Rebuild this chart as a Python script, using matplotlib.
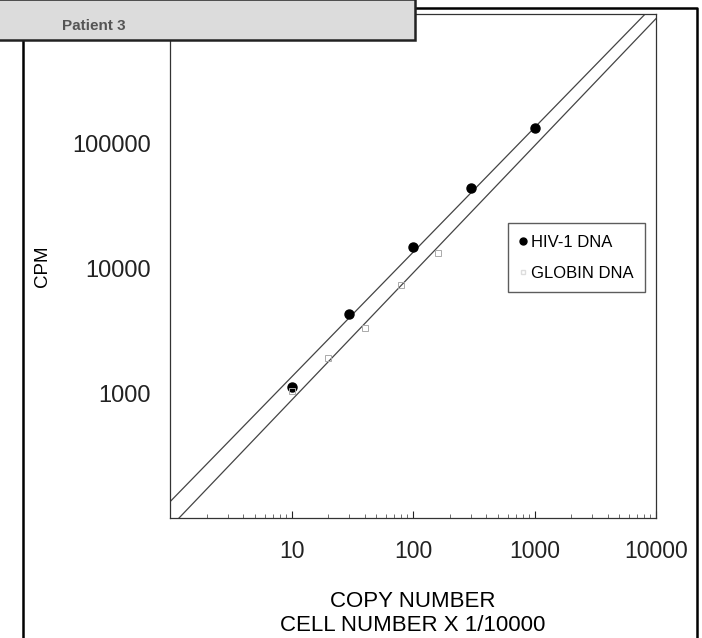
import numpy as np
import matplotlib
matplotlib.use('Agg')
import matplotlib.pyplot as plt
from matplotlib.patches import Rectangle
from matplotlib.lines import Line2D

plt.rcParams['font.family'] = ['Liberation Sans', 'DejaVu Sans']

# values
hiv_copies = [10, 30, 100, 300, 1000]
hiv_cpm = [1120, 4300, 14800, 44500, 134000]
globin_cells = [10, 20, 40, 80, 160]
globin_cpm = [1040, 1930, 3360, 7400, 13300]
# fitted lines: cpm = a * x ** b
hiv_fit = (135, 1.0)
globin_fit = (84, 1.02)
x_ticks = [10, 100, 1000, 10000]
y_ticks = [1000, 10000, 100000]

fig = plt.figure(figsize=(7.02, 6.38), dpi=100)
ax = fig.add_axes([0.2422, 0.1881, 0.6923, 0.790])

xx = np.logspace(0, 4.1, 50)
ax.plot(xx, hiv_fit[0] * xx ** hiv_fit[1], color='#444444', lw=0.9)
ax.plot(xx, globin_fit[0] * xx ** globin_fit[1], color='#444444', lw=0.9)
ax.plot(hiv_copies, hiv_cpm, 'o', color='black', markersize=6.5, zorder=3)
ax.plot(globin_cells, globin_cpm, 's', mfc='none', mec='#aaaaaa', mew=0.7,
        markersize=5, zorder=3)

ax.set_xscale('log')
ax.set_yscale('log')
ax.set_xlim(1, 10000)
ax.set_ylim(100, 1.1e6)
ax.set_xticks(x_ticks)
ax.set_xticklabels([str(t) for t in x_ticks])
ax.set_yticks(y_ticks)
ax.set_yticklabels([str(t) for t in y_ticks])
ax.yaxis.set_minor_locator(matplotlib.ticker.NullLocator())
ax.tick_params(axis='x', which='major', direction='in', length=5, width=0.8,
               pad=16, labelsize=16.5, colors='#222222')
ax.tick_params(axis='x', which='minor', direction='in', length=3, width=0.6,
               colors='#555555')
ax.tick_params(axis='y', which='major', length=0, pad=14, labelsize=17,
               colors='#222222')
for s in ax.spines.values():
    s.set_color('#333333')
    s.set_linewidth(0.9)

ax.set_ylabel('CPM', fontsize=13.5, labelpad=15)
ax.set_xlabel('COPY NUMBER\nCELL NUMBER X 1/10000', fontsize=16,
              labelpad=20, linespacing=1.2)

handles = [
    Line2D([], [], marker='o', color='black', ls='none', markersize=5),
    Line2D([], [], marker='s', mfc='none', mec='#dddddd', ls='none',
           markersize=3),
]
leg = ax.legend(handles, ['HIV-1 DNA', 'GLOBIN DNA'], loc='upper left',
                bbox_to_anchor=(0.695, 0.585), borderaxespad=0,
                frameon=True, fancybox=False,
                handlelength=0.4, handletextpad=0.3, borderpad=0.7,
                labelspacing=0.95, prop={'size': 12})
leg.get_frame().set_edgecolor('#333333')
leg.get_frame().set_linewidth(1.0)

# scanned page framing
fig.add_artist(Line2D([23 / 702, 23 / 702], [0, 1 - 40 / 638], color='black',
                      lw=1.8, transform=fig.transFigure))
fig.add_artist(Line2D([415 / 702, 697 / 702, 697 / 702],
                      [1 - 8 / 638, 1 - 8 / 638, 0], color='black', lw=1.8,
                      transform=fig.transFigure))
fig.add_artist(Rectangle((-0.01, 1 - 40 / 638), 422 / 702, 41 / 638,
                         transform=fig.transFigure, facecolor='#dcdcdc',
                         edgecolor='#222222', lw=1.8, zorder=10))
fig.text(62 / 702, 1 - 30 / 638, 'Patient 3', fontsize=11, fontweight='bold',
         color='#555555', zorder=11)

fig.savefig('out.png', dpi=100)
